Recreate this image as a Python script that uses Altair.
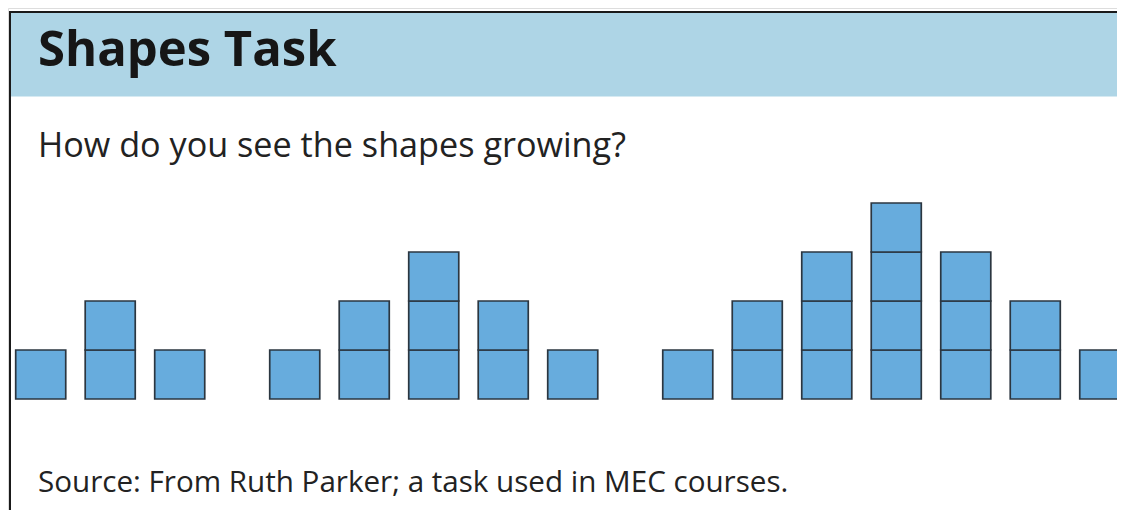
import altair as alt
import pandas as pd

# Data: column heights (number of stacked squares) for each shape in the sequence
shape_1 = [1, 2, 1]
shape_2 = [1, 2, 3, 2, 1]
shape_3 = [1, 2, 3, 4, 3, 2, 1]
shapes = [shape_1, shape_2, shape_3]

title_text = "Shapes Task"
question_text = "How do you see the shapes growing?"
source_text = "Source: From Ruth Parker; a task used in MEC courses."

# Layout constants (pixels are chart coordinates)
W, H = 1109, 502
GROUP_GAP = 1.655   # distance between last column of a shape and first of the next, in column units
SQ = 0.72           # square width in column units
PX_PER_COL = 69.5
X_ORIGIN = 7.7      # pixel of column 0 left edge
PX_PER_ROW = 49.0
Y_BASE = 391.0      # pixel of the ground line

rows = []
start = 0.0
for g, heights in enumerate(shapes):
    for c, h in enumerate(heights):
        for k in range(h):
            rows.append({"shape": g + 1, "col": c, "level": k,
                         "x0": start + c, "x1": start + c + SQ,
                         "y0": k, "y1": k + 1})
    start += len(heights) - 1 + GROUP_GAP
cells = pd.DataFrame(rows)

d0 = -X_ORIGIN / PX_PER_COL
xscale = alt.Scale(domain=[d0, d0 + W / PX_PER_COL], nice=False, zero=False)
v0 = -(H - Y_BASE) / PX_PER_ROW
yscale = alt.Scale(domain=[v0, v0 + H / PX_PER_ROW], nice=False, zero=False)

squares = alt.Chart(cells).mark_rect(
    fill="#67ACDD", stroke="#2B3640", strokeWidth=1.7
).encode(
    x=alt.X("x0:Q", scale=xscale, axis=None),
    x2="x1:Q",
    y=alt.Y("y0:Q", scale=yscale, axis=None),
    y2="y1:Q",
)

one = pd.DataFrame({"a": [0]})
band = alt.Chart(one).mark_rect(fill="#AED5E6").encode(
    x=alt.value(2), x2=alt.value(W), y=alt.value(4), y2=alt.value(88.5)
)
top_line = alt.Chart(one).mark_rule(color="#1a1a1a", strokeWidth=2).encode(
    x=alt.value(1), x2=alt.value(W), y=alt.value(4)
)
left_line = alt.Chart(one).mark_rule(color="#1a1a1a", strokeWidth=2).encode(
    x=alt.value(2), y=alt.value(3), y2=alt.value(H)
)

def label(txt, x, y, size, weight="normal", color="#1f1f1f"):
    return alt.Chart(pd.DataFrame({"t": [txt]})).mark_text(
        align="left", baseline="alphabetic", font="Open Sans",
        fontSize=size, fontWeight=weight, color=color
    ).encode(text="t:N", x=alt.value(x), y=alt.value(y))

title = label(title_text, 30, 57.7, 49, "bold", "#161616")
question = label(question_text, 30, 148.7, 34.2, "normal", "#222222")
source = label(source_text, 30, 483.7, 29.6, "normal", "#222222")

chart = alt.layer(band, top_line, left_line, squares, title, question, source).properties(
    width=W, height=H, padding=0, autosize=alt.AutoSizeParams(type="none")
).configure_view(stroke=None).configure(background="white")

chart.save("out.html", embed_options={"renderer": "svg", "actions": False})
